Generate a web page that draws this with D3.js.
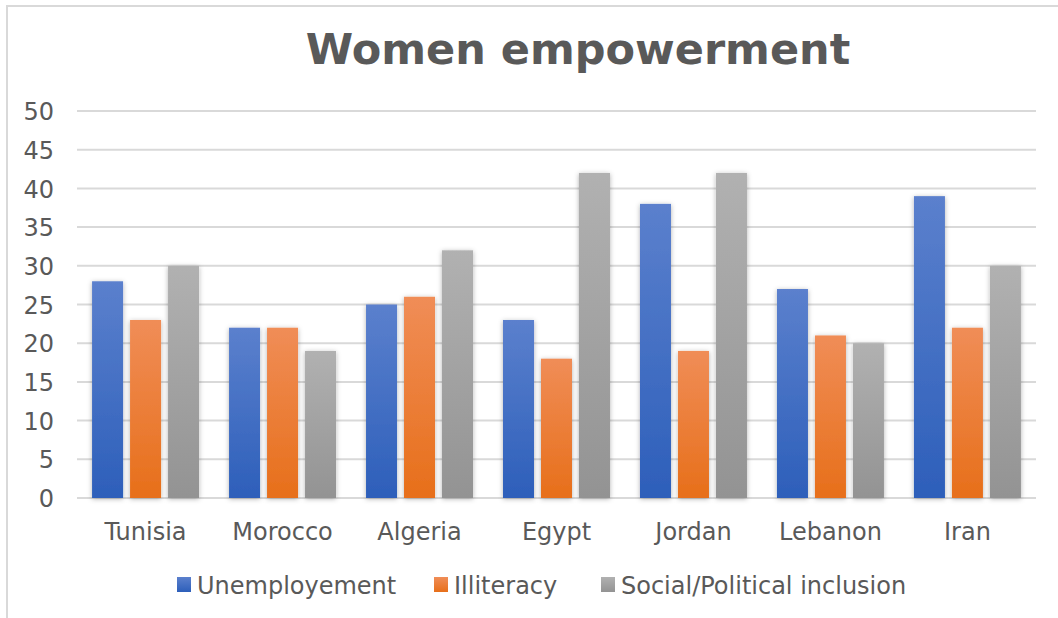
<!DOCTYPE html>
<html>
<head>
<meta charset="utf-8">
<script src="https://cdn.jsdelivr.net/npm/d3@7"></script>
<style>
body { margin: 0; background: #fff; }
text { font-family: "DejaVu Sans", Verdana, sans-serif; fill: #595959; }
</style>
</head>
<body>
<script>
var countries = ["Tunisia", "Morocco", "Algeria", "Egypt", "Jordan", "Lebanon", "Iran"];
var seriesNames = ["Unemployement", "Illiteracy", "Social/Political inclusion"];
var unemployment = [28, 22, 25, 23, 38, 27, 39];
var illiteracy = [23, 22, 26, 18, 19, 21, 22];
var inclusion = [30, 19, 32, 42, 42, 20, 30];
var yTicks = [0, 5, 10, 15, 20, 25, 30, 35, 40, 45, 50];

var w = 1058;
var h = 618;
var plotLeft = 77, plotRight = 1036, plotTop = 111, plotBottom = 498;

var colors = [
	["#5b80cd", "#2d5fba"],
	["#f08d57", "#e76f1a"],
	["#b1b1b1", "#939393"]
];

var svg = d3.select("body")
	.append("svg")
	.attr("width", w)
	.attr("height", h);

var defs = svg.append("defs");
colors.forEach(function(c, i){
	var g = defs.append("linearGradient")
		.attr("id", "grad" + i)
		.attr("x1", 0).attr("y1", 0).attr("x2", 0).attr("y2", 1);
	g.append("stop").attr("offset", "0%").attr("stop-color", c[0]);
	g.append("stop").attr("offset", "100%").attr("stop-color", c[1]);
});
var f = defs.append("filter").attr("id", "shadow")
	.attr("x", "-30%").attr("y", "-10%").attr("width", "160%").attr("height", "120%");
f.append("feDropShadow")
	.attr("dx", 0).attr("dy", 1).attr("stdDeviation", 2.5)
	.attr("flood-color", "#000").attr("flood-opacity", 0.3);

// chart border, cropped on the right and bottom
svg.append("path")
	.attr("d", "M7," + h + "V6H" + w)
	.attr("fill", "none")
	.attr("stroke", "#d9d9d9")
	.attr("stroke-width", 2);

var xScale = d3.scaleBand()
	.domain(countries)
	.range([plotLeft, plotRight])
	.paddingInner(0.219)
	.paddingOuter(0.11);

var xInner = d3.scaleBand()
	.domain([0, 1, 2])
	.range([0, xScale.bandwidth()])
	.paddingInner(0.184);

var yScale = d3.scaleLinear()
	.domain([0, 50])
	.range([plotBottom, plotTop]);

// gridlines
svg.append("g")
	.selectAll("line")
	.data(yTicks)
	.enter()
	.append("line")
	.attr("x1", plotLeft)
	.attr("x2", plotRight)
	.attr("y1", function(d){ return yScale(d); })
	.attr("y2", function(d){ return yScale(d); })
	.attr("stroke", "#d9d9d9")
	.attr("stroke-width", 2);

var yAxis = d3.axisLeft(yScale).tickValues(yTicks).tickSize(0).tickPadding(0);
svg.append("g")
	.attr("transform", "translate(54,0)")
	.call(yAxis)
	.call(function(g){
		g.select(".domain").remove();
		g.selectAll("text")
			.attr("font-size", 24)
			.attr("dy", "0.36em")
			.style("font-family", "DejaVu Sans, Verdana, sans-serif")
			.style("fill", "#595959");
	});

var table = countries.map(function(c, i){
	return { country: c, values: [unemployment[i], illiteracy[i], inclusion[i]] };
});

var groups = svg.append("g")
	.selectAll("g")
	.data(table)
	.enter()
	.append("g")
	.attr("transform", function(d){ return "translate(" + xScale(d.country) + ",0)"; });

groups.selectAll("rect")
	.data(function(d){ return d.values; })
	.enter()
	.append("rect")
	.attr("x", function(d, i){ return xInner(i); })
	.attr("y", function(d){ return yScale(d); })
	.attr("width", xInner.bandwidth())
	.attr("height", function(d){ return yScale(0) - yScale(d); })
	.attr("fill", function(d, i){ return "url(#grad" + i + ")"; })
	.attr("filter", "url(#shadow)");

var xAxis = d3.axisBottom(xScale).tickSize(0).tickPadding(0);
svg.append("g")
	.attr("transform", "translate(0,540)")
	.call(xAxis)
	.call(function(g){
		g.select(".domain").remove();
		g.selectAll("text")
			.attr("font-size", 24)
			.attr("dy", 0)
			.style("font-family", "DejaVu Sans, Verdana, sans-serif")
			.style("fill", "#595959");
	});

// title
svg.append("text")
	.attr("x", 578)
	.attr("y", 64)
	.attr("text-anchor", "middle")
	.attr("font-size", 43)
	.attr("font-weight", "bold")
	.text("Women empowerment");

// legend
var legendX = [177, 434, 601];
var legend = svg.append("g")
	.selectAll("g")
	.data(seriesNames)
	.enter()
	.append("g")
	.attr("transform", function(d, i){ return "translate(" + legendX[i] + ",0)"; });
legend.append("rect")
	.attr("x", 0)
	.attr("y", 577)
	.attr("width", 14)
	.attr("height", 15)
	.attr("fill", function(d, i){ return "url(#grad" + i + ")"; });
legend.append("text")
	.attr("x", 20)
	.attr("y", 594)
	.attr("font-size", 24)
	.text(function(d){ return d; });
</script>
</body>
</html>
